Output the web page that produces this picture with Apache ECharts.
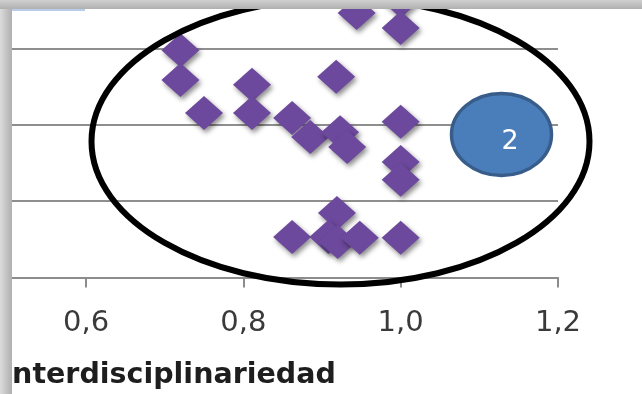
<!DOCTYPE html>
<html>
<head>
<meta charset="utf-8">
<script src="https://cdn.jsdelivr.net/npm/echarts@6/dist/echarts.min.js"></script>
<style>
html,body{margin:0;padding:0;background:#fff;overflow:hidden;width:642px;height:394px;}
#chart{position:absolute;left:-100px;top:-60px;width:800px;height:520px;}
</style>
</head>
<body>
<div id="chart"></div>
<script>
// Data (x = interdisciplinariedad, y = second index)
var xValues = [0.944, 1.0, 1.0, 0.72, 0.72, 0.811, 0.918, 0.75, 0.811, 0.862, 0.885, 0.923, 0.932, 1.0, 1.0, 1.0, 0.919, 0.862, 0.908, 0.920, 0.948, 1.0];
var yValues = [0.693, 0.725, 0.654, 0.596, 0.518, 0.505, 0.526, 0.431, 0.431, 0.418, 0.368, 0.381, 0.342, 0.408, 0.303, 0.256, 0.169, 0.106, 0.106, 0.093, 0.104, 0.104];
var xTickLabels = ['0,4', '0,6', '0,8', '1,0', '1,2'];
var xTickValues = [0.4, 0.6, 0.8, 1.0, 1.2];
var xAxisTitle = 'Interdisciplinariedad';
var groupLabel = '2';

var points = xValues.map(function (x, i) { return [x, yValues[i]]; });

// The reference is a crop: the canvas is larger than the window and shifted by (OX, OY)
var OX = 100, OY = 60;

var chart = echarts.init(document.getElementById('chart'), null, {renderer: 'canvas'});
var option = {
  animation: false,
  backgroundColor: '#ffffff',
  grid: {left: OX - 71.3, right: 800 - (558 + OX), top: OY - 27.7, bottom: 520 - (277.5 + OY), containLabel: false},
  xAxis: {
    type: 'value', min: 0.4, max: 1.2, interval: 0.2,
    axisLine: {show: true, lineStyle: {color: '#8c8c8c', width: 2}},
    axisTick: {show: true, length: 10, lineStyle: {color: '#8c8c8c', width: 2}},
    axisLabel: {
      margin: 31,
      fontFamily: 'DejaVu Sans', fontSize: 29, color: '#3a3a3a',
      formatter: function (v) {
        var idx = xTickValues.findIndex(function (t) { return Math.abs(t - v) < 1e-6; });
        return idx >= 0 ? xTickLabels[idx] : '';
      }
    },
    splitLine: {show: false}
  },
  yAxis: {
    type: 'value', min: 0, max: 0.8, interval: 0.2,
    axisLine: {show: false}, axisTick: {show: false}, axisLabel: {show: false},
    splitLine: {show: true, lineStyle: {color: '#8e8e8e', width: 2}}
  },
  series: [{
    type: 'scatter',
    data: points,
    symbol: 'diamond',
    symbolSize: [38, 34],
    itemStyle: {
      color: '#6d499d',
      opacity: 1,
      shadowBlur: 5, shadowColor: 'rgba(0,0,0,0.45)', shadowOffsetX: 2, shadowOffsetY: 3
    },
    z: 3
  }],
  graphic: [{
    type: 'group', x: OX, y: OY, z: 10,
    children: [
      {type: 'ellipse', shape: {cx: 340.5, cy: 141.5, rx: 249, ry: 143}, style: {fill: null, stroke: '#000', lineWidth: 6}, z: 10},
      {type: 'ellipse', shape: {cx: 501.5, cy: 134.5, rx: 50, ry: 41}, style: {fill: '#4a7ebb', stroke: '#385d8a', lineWidth: 3.5}, z: 11},
      {type: 'text', x: 510, y: 142, style: {text: groupLabel, fill: '#ffffff', font: '27px "DejaVu Sans"', textAlign: 'center', textVerticalAlign: 'middle'}, z: 12},
      {type: 'text', x: 1.5, y: 361, style: {text: xAxisTitle, fill: '#1e1e1e', font: 'bold 28.5px "DejaVu Sans"', textAlign: 'left', textVerticalAlign: 'top'}, z: 12},
      {type: 'rect', shape: {x: 0, y: 0, width: 12, height: 394},
        style: {fill: new echarts.graphic.LinearGradient(0, 0, 1, 0, [{offset: 0, color: '#dcdcdc'}, {offset: 0.7, color: '#bcbcbc'}, {offset: 1, color: '#b0b0b0'}])}, z: 20},
      {type: 'rect', shape: {x: 0, y: 0, width: 642, height: 9},
        style: {fill: new echarts.graphic.LinearGradient(0, 0, 0, 1, [{offset: 0, color: '#d0d0d0'}, {offset: 1, color: '#b0b0b0'}])}, z: 20},
      {type: 'line', shape: {x1: 12, y1: 10, x2: 85, y2: 10}, style: {stroke: '#9fbde3', lineWidth: 1.5}, z: 19}
    ]
  }]
};
chart.setOption(option);
</script>
</body>
</html>
